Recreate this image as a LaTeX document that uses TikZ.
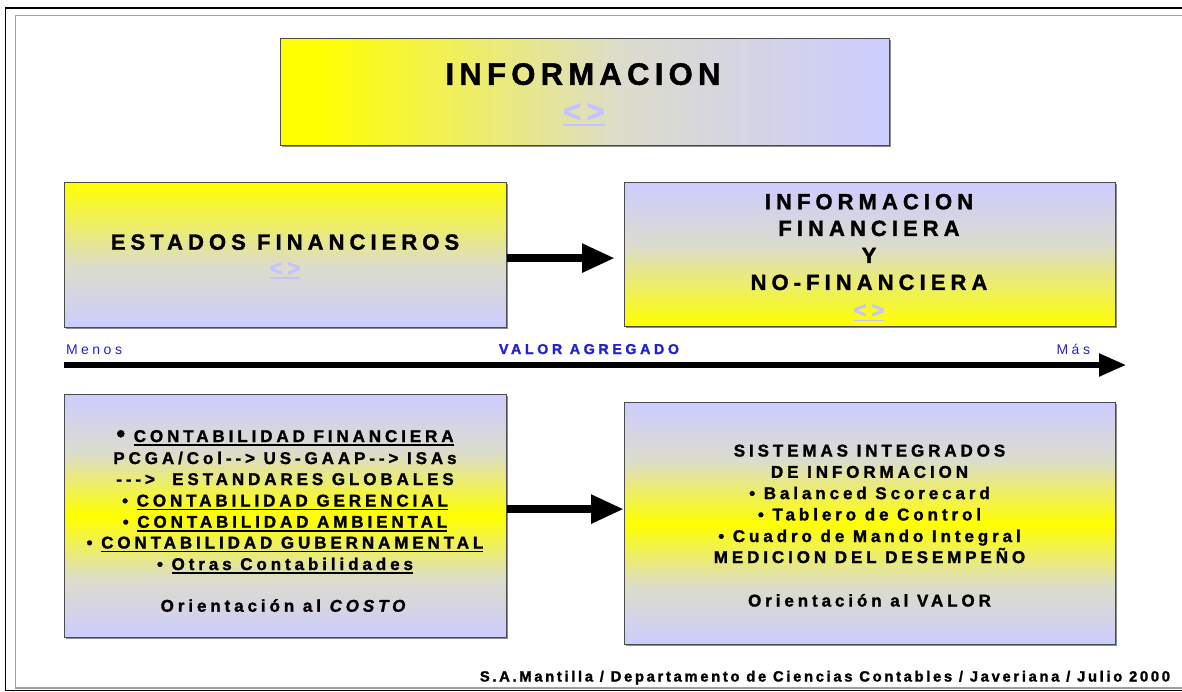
\documentclass[tikz,border=0pt]{standalone}
\usepackage{fontspec}
\setmainfont{Liberation Sans}
\newfontfamily\fT[LetterSpace=17,Ligatures=TeXOff,BoldFeatures={FakeBold=1.5},BoldItalicFeatures={FakeBold=1.5}]{Liberation Sans}
\newfontfamily\fM[LetterSpace=23,Ligatures=TeXOff,BoldFeatures={FakeBold=1.5},BoldItalicFeatures={FakeBold=1.5}]{Liberation Sans}
\newfontfamily\fB[LetterSpace=23,Ligatures=TeXOff,BoldFeatures={FakeBold=1.5},BoldItalicFeatures={FakeBold=1.5}]{Liberation Sans}
\newfontfamily\fA[LetterSpace=25,Ligatures=TeXOff,BoldFeatures={FakeBold=1.5}]{Liberation Sans}
\newfontfamily\fF[LetterSpace=18,Ligatures=TeXOff,BoldFeatures={FakeBold=1.5}]{Liberation Sans}
\usetikzlibrary{arrows.meta,shadows,calc}
\definecolor{yel}{RGB}{255,255,0}
\definecolor{lav}{RGB}{204,204,255}
\definecolor{midc}{RGB}{220,220,204}
\definecolor{lnk}{RGB}{195,195,255}
\definecolor{axb}{RGB}{35,35,205}
\definecolor{frgray}{RGB}{160,160,160}
\pgfdeclarehorizontalshading{shTop}{100bp}{color(0bp)=(yel); color(25bp)=(yel); color(28bp)=(yel); color(53bp)=(midc); color(75bp)=(lav); color(100bp)=(lav)}
\pgfdeclareverticalshading{shDown}{100bp}{color(0bp)=(lav); color(25bp)=(lav); color(46bp)=(midc); color(75bp)=(yel); color(100bp)=(yel)}
\pgfdeclareverticalshading{shUp}{100bp}{color(0bp)=(yel); color(25bp)=(yel); color(53bp)=(midc); color(75bp)=(lav); color(100bp)=(lav)}
\pgfdeclareverticalshading{shMid}{100bp}{color(0bp)=(lav); color(25bp)=(lav); color(37bp)=(midc); color(50bp)=(yel); color(63bp)=(midc); color(75bp)=(lav); color(100bp)=(lav)}
\newcommand\ulx[1]{\begingroup\setbox0\hbox{#1}\rlap{\rule[-3.8pt]{\wd0}{1.8pt}}\box0\endgroup}
\begin{document}
\begin{tikzpicture}[x=1pt,y=-1pt,
  box/.style={draw=black!70, line width=1.2pt, inner sep=0pt, anchor=north west,
    general shadow={fill=black!45, shadow xshift=1.5pt, shadow yshift=-1.5pt}},
  txt/.style={anchor=base, inner sep=0pt, outer sep=0pt},
  tT/.style={txt, font=\fT\bfseries\fontsize{31}{36}\selectfont},
  tM/.style={txt, font=\fM\bfseries\fontsize{22}{27}\selectfont},
  tB/.style={txt, font=\fB\bfseries\fontsize{17}{21}\selectfont},
  tAx/.style={txt, font=\fA\fontsize{14}{17}\selectfont, text=axb},
  tF/.style={txt, font=\fF\bfseries\fontsize{14.8}{17}\selectfont},
  blk/.style={line width=8.5pt, -{Triangle[length=33pt,width=27pt]}},
]
\useasboundingbox[fill=white] (0,0) rectangle (1182,692);
% frame
\draw[black, line width=1.5pt] (1182,8) -- (5.5,8) -- (5.5,690.5) -- (1182,690.5);
\draw[frgray, line width=1.5pt] (1182,15.5) -- (15.5,15.5) -- (15.5,688) -- (1182,688);
% boxes
\node[box, shading=shTop, minimum width=609pt, minimum height=107pt] (top) at (280,38) {};
\node[box, shading=shDown, minimum width=442pt, minimum height=145pt] (ef) at (64,182) {};
\node[box, shading=shUp, minimum width=491pt, minimum height=144pt] (fin) at (624,182) {};
\node[box, shading=shMid, minimum width=442pt, minimum height=243pt] (bl) at (64,394) {};
\node[box, shading=shMid, minimum width=491pt, minimum height=242pt] (br) at (624,402) {};
% top box text
\node[tT] (topT) at (583,84.8) {INFORMACION};
\node[tT, text=lnk] (topL) at (584,122) {\ulx{<>}};
% estados
\node[tM] (efT) at (285,249.7) {ESTADOS FINANCIEROS};
\node[tM, text=lnk] (efL) at (285,275.5) {\ulx{<>}};
% info financiera
\node[tM] (finT1) at (869,209.3) {INFORMACION};
\node[tM] (finT2) at (869,236) {FINANCIERA};
\node[tM] (finT3) at (869,263) {Y};
\node[tM] (finT4) at (869,290) {NO-FINANCIERA};
\node[tM, text=lnk] (finL) at (869,317.5) {\ulx{<>}};
% axis
\coordinate (axL) at (64,365);
\coordinate (axR) at (1126,365);
\draw[line width=5.4pt, -{Triangle[length=27pt,width=22pt]}] (axL) -- (axR);
\node[tAx, anchor=base west] (menos) at (66,354) {Menos};
\node[tAx, font=\fA\bfseries\fontsize{14.3}{17}\selectfont] (valor) at (589,354) {VALOR AGREGADO};
\node[tAx, anchor=base east] (mas) at (1090,354) {Más};
% arrows between boxes
\coordinate (t1) at ([yshift=-3pt]ef.east);
\coordinate (t2) at (t1 -| fin.west);
\draw[blk, shorten >=9pt] (t1) -- (t2);
\coordinate (b1) at ([yshift=7pt]bl.east);
\coordinate (b2) at (b1 -| br.west);
\draw[blk] (b1) -- (b2);
% bottom left text
\node[tB] (l1) at (285,442) {{\fontsize{25}{25}\selectfont •}\ \ulx{CONTABILIDAD FINANCIERA}};
\node[tB] (l2) at (285,464) {PCGA/Col--> US-GAAP--> ISAs};
\node[tB] (l3) at (285,485) {---> \ ESTANDARES GLOBALES};
\node[tB] (l4) at (285,506.5) {• \ulx{CONTABILIDAD GERENCIAL}};
\node[tB] (l5) at (285,527.7) {• \ulx{CONTABILIDAD AMBIENTAL}};
\node[tB] (l6) at (285,548.5) {• \ulx{CONTABILIDAD GUBERNAMENTAL}};
\node[tB] (l7) at (285,570) {• \ulx{Otras Contabilidades}};
\node[tB] (l8) at (285,611.7) {Orientación al \textit{COSTO}};
% bottom right text
\node[tB] (r1) at (869.5,456.5) {SISTEMAS INTEGRADOS};
\node[tB] (r2) at (869.5,477.8) {DE INFORMACION};
\node[tB] (r3) at (869.5,499.1) {• Balanced Scorecard};
\node[tB] (r4) at (869.5,520.4) {• Tablero de Control};
\node[tB] (r5) at (869.5,542) {• Cuadro de Mando Integral};
\node[tB] (r6) at (869.5,563) {MEDICION DEL DESEMPEÑO};
\node[tB] (r7) at (869.5,606.5) {Orientación al VALOR};
% footer
\node[tF, anchor=base east] (foot) at (1170,681.5) {S.A.Mantilla / Departamento de Ciencias Contables / Javeriana / Julio 2000};
\end{tikzpicture}
\end{document}
